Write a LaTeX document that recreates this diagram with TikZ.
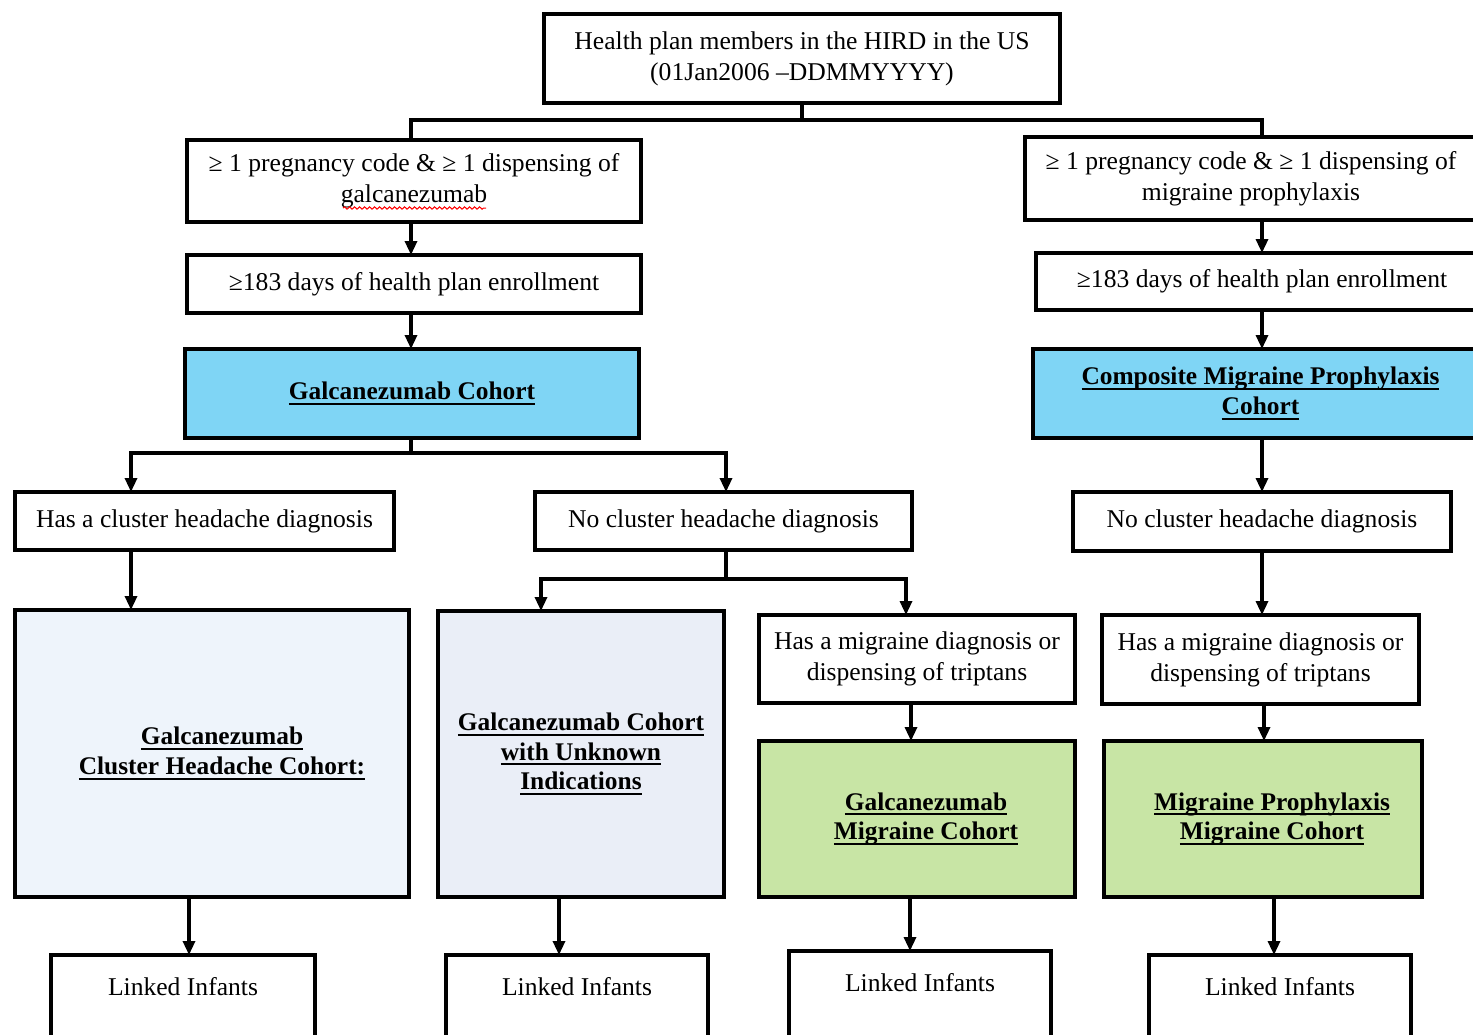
\documentclass[tikz,border=0pt]{standalone}
\usepackage{fontspec}
\setmainfont{Liberation Serif}
\usetikzlibrary{arrows.meta,decorations.pathmorphing}
\definecolor{cblue}{HTML}{7FD5F5}
\definecolor{cgreen}{HTML}{C8E5A5}
\definecolor{ccl}{HTML}{EEF4FB}
\definecolor{cunk}{HTML}{EAEEF7}
\newsavebox\myulbox
\newcommand\myul[1]{\sbox\myulbox{#1}\leavevmode\rlap{\rule[-2.6pt]{\wd\myulbox}{1pt}}\usebox\myulbox}
\newcommand\mybox[7]{\node[box,#1,minimum width={(#4-#2-4)*0.5pt},minimum height={(#5-#3-4)*0.5pt}] (#6) at ({(#2+#4)/2},{(#3+#5)/2}) {#7};}
\tikzset{
  box/.style={draw,line width=2pt,inner sep=0pt,outer sep=0pt,align=center,font=\fontsize{12.8}{15.5}\selectfont},
  bold/.style={font=\fontsize{12.7}{14.8}\selectfont\bfseries},
  ln/.style={line width=1.6pt},
  arr/.style={line width=1.6pt,-{Triangle[length=7pt,width=6pt]}},
  linked/.style={box,anchor=north,text height=20pt,text depth=45pt}
}
\begin{document}
\begin{tikzpicture}[x=0.5pt,y=-0.5pt]
\useasboundingbox (0,0) rectangle (1473,1034);
\clip (0,0) rectangle (1473,1034);
% boxes
\mybox{}{542}{12}{1062}{105}{top}{Health plan members in the HIRD in the US\\(01Jan2006 –DDMMYYYY)}
\mybox{}{185}{138}{643}{224}{b1}{≥ 1 pregnancy code \& ≥ 1 dispensing of\\galcanezumab}
\mybox{}{185}{253}{643}{315}{b2}{≥183 days of health plan enrollment}
\mybox{fill=cblue,bold}{183}{347}{641}{440}{b3}{\myul{Galcanezumab Cohort}}
\mybox{}{13}{490}{396}{552}{hc}{Has a cluster headache diagnosis}
\mybox{}{533}{490}{914}{552}{nc}{No cluster headache diagnosis}
\mybox{fill=ccl,bold}{13}{608}{411}{899}{hcc}{\hspace*{10pt}\myul{Galcanezumab}\\\hspace*{10pt}\myul{Cluster Headache Cohort:}}
\mybox{fill=cunk,bold}{436}{609}{726}{899}{unk}{\myul{Galcanezumab Cohort}\\\myul{with Unknown}\\\myul{Indications}}
\mybox{}{757}{613}{1077}{705}{mig1}{Has a migraine diagnosis or\\dispensing of triptans}
\mybox{fill=cgreen,bold}{757}{739}{1077}{899}{gm}{\hspace*{9pt}\myul{Galcanezumab}\\\hspace*{9pt}\myul{Migraine Cohort}}
\mybox{}{1023}{135}{1479}{222}{r1}{≥ 1 pregnancy code \& ≥ 1 dispensing of\\migraine prophylaxis}
\mybox{}{1034}{251}{1490}{312}{r2}{≥183 days of health plan enrollment}
\mybox{fill=cblue,bold}{1031}{347}{1490}{440}{r3}{\myul{Composite Migraine Prophylaxis}\\\myul{Cohort}}
\mybox{}{1071}{490}{1453}{553}{rnc}{No cluster headache diagnosis}
\mybox{}{1100}{613}{1421}{706}{rmig}{Has a migraine diagnosis or\\dispensing of triptans}
\mybox{fill=cgreen,bold}{1102}{739}{1424}{899}{rgm}{\hspace*{9pt}\myul{Migraine Prophylaxis}\\\hspace*{9pt}\myul{Migraine Cohort}}
\node[linked,minimum width={(317-49-4)*0.5pt}] (L1) at (183,955) {Linked Infants};
\node[linked,minimum width={(710-444-4)*0.5pt}] (L2) at (577,955) {Linked Infants};
\node[linked,minimum width={(1053-787-4)*0.5pt}] (L3) at (920,951) {Linked Infants};
\node[linked,minimum width={(1413-1147-4)*0.5pt}] (L4) at (1280,955) {Linked Infants};
% spell-check mark
\draw[red,line width=0.5pt,decorate,decoration={snake,amplitude=0.6pt,segment length=2.5pt}] (343,208) -- (486,208);
% column coordinates
\coordinate (j0) at (802,120);
\coordinate (lc) at (411,0);
\coordinate (rc) at (1262,0);
\coordinate (s1l) at (131,453);
\coordinate (s1r) at (726,453);
\coordinate (s2) at (726,579);
\coordinate (s2l) at (541,579);
\coordinate (s2r) at (906,579);
\coordinate (c911) at (911,0);
\coordinate (c1264) at (1264,0);
\coordinate (c189) at (189,0);
\coordinate (c559) at (559,0);
\coordinate (c910) at (910,0);
\coordinate (c1274) at (1274,0);
% connectors
\draw[ln] (top.south) -- (j0);
\draw[ln] (lc |- b1.north) -- (lc |- j0) -- (rc |- j0) -- (rc |- r1.north);
\draw[arr] (b1.south -| lc) -- (b2.north -| lc);
\draw[arr] (b2.south -| lc) -- (b3.north -| lc);
\draw[ln] (b3.south -| lc) -- (lc |- s1l);
\draw[arr] (lc |- s1l) -| (s1l |- hc.north);
\draw[arr] (lc |- s1r) -| (s1r |- nc.north);
\draw[arr] (hc.south -| s1l) -- (hcc.north -| s1l);
\draw[ln] (nc.south -| s2) -- (s2);
\draw[arr] (s2) -| (s2l |- unk.north);
\draw[arr] (s2) -| (s2r |- mig1.north);
\draw[arr] (mig1.south -| c911) -- (gm.north -| c911);
\draw[arr] (hcc.south -| c189) -- (L1.north -| c189);
\draw[arr] (unk.south -| c559) -- (L2.north -| c559);
\draw[arr] (gm.south -| c910) -- (L3.north -| c910);
\draw[arr] (r1.south -| rc) -- (r2.north -| rc);
\draw[arr] (r2.south -| rc) -- (r3.north -| rc);
\draw[arr] (r3.south -| rc) -- (rnc.north -| rc);
\draw[arr] (rnc.south -| rc) -- (rmig.north -| rc);
\draw[arr] (rmig.south -| c1264) -- (rgm.north -| c1264);
\draw[arr] (rgm.south -| c1274) -- (L4.north -| c1274);
\end{tikzpicture}
\end{document}
